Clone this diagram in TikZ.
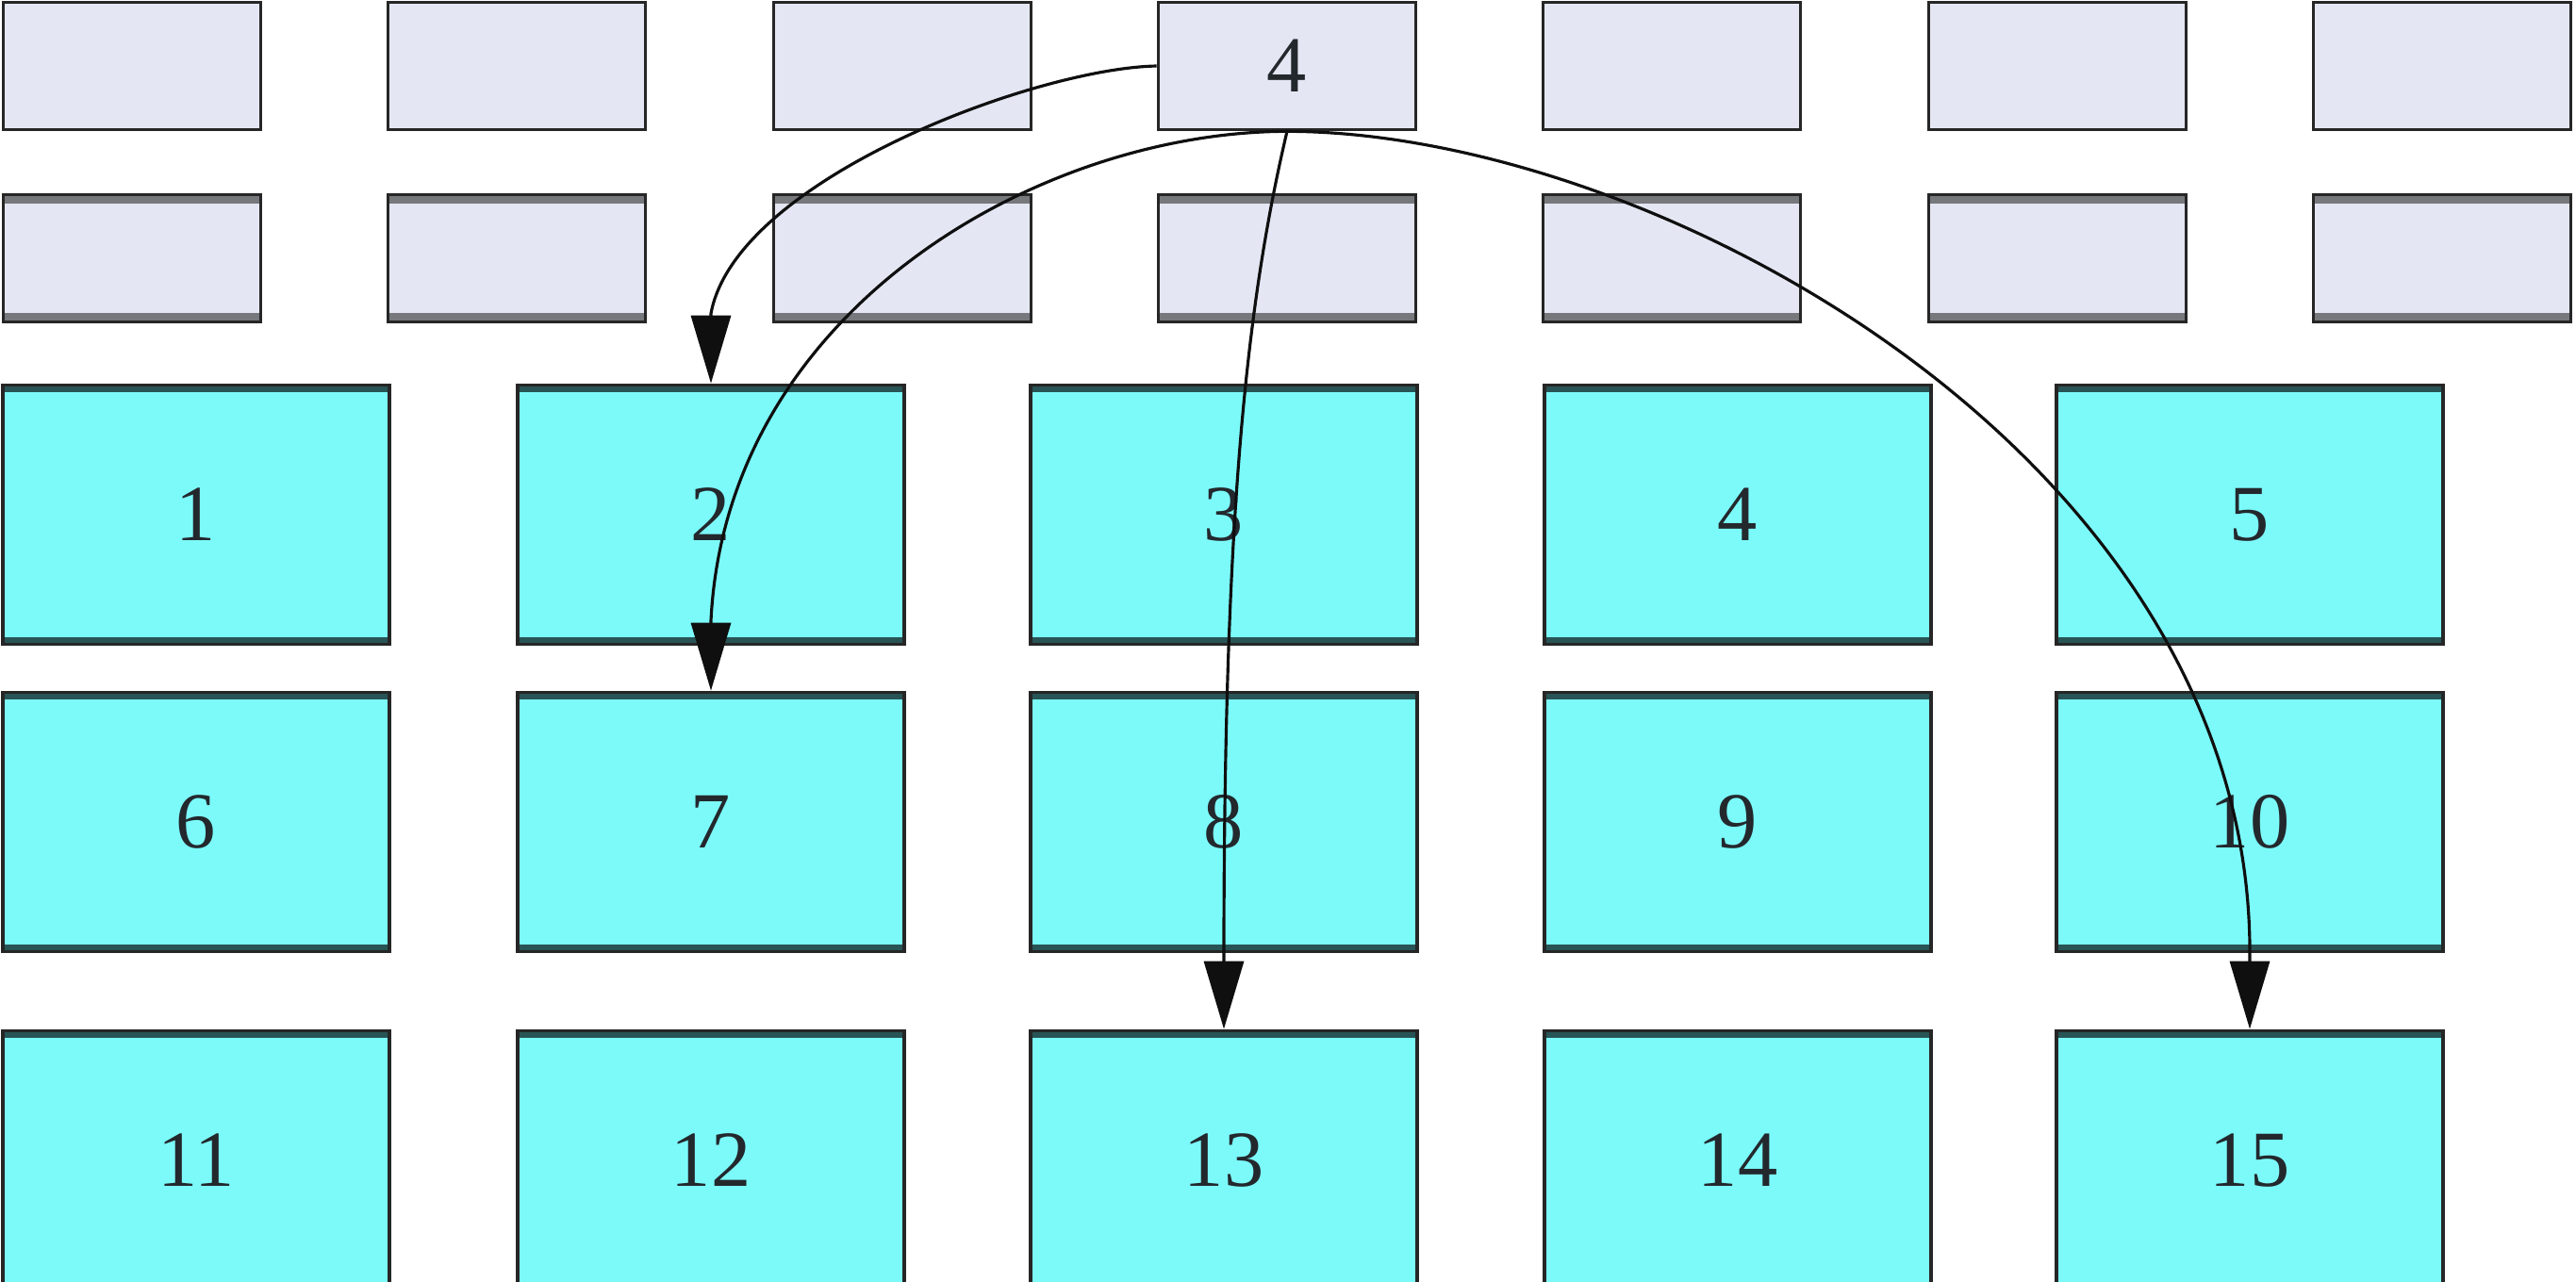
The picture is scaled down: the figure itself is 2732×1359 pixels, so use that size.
\documentclass[tikz,border=0pt]{standalone}
\usepackage{fontspec}
\setmainfont{Liberation Serif}
\usetikzlibrary{arrows.meta,calc}
\definecolor{lav}{RGB}{228,231,243}
\definecolor{cyanbox}{RGB}{124,250,250}
\definecolor{bandgray}{RGB}{118,120,124}
\definecolor{bandteal}{RGB}{40,84,86}
\definecolor{edgeblack}{RGB}{15,15,15}
\definecolor{labeltext}{RGB}{35,40,45}
\begin{document}
\begin{tikzpicture}[x=0.01cm,y=-0.01cm,
  topbox/.style={rectangle, inner sep=0pt, minimum width=2.73cm, minimum height=1.35cm,
    fill=lav, draw=black!85, line width=1pt, font=\fontsize{24}{28}\selectfont, text=labeltext},
  topboxb/.style={topbox, path picture={
    \draw[bandgray, line width=0.2cm]
      (path picture bounding box.north west) -- (path picture bounding box.north east)
      (path picture bounding box.south west) -- (path picture bounding box.south east);}},
  cellbox/.style={rectangle, inner sep=0pt, minimum width=4.10cm, minimum height=2.75cm,
    fill=cyanbox, draw=black!85, line width=1pt, font=\fontsize{24}{28}\selectfont, text=labeltext,
    path picture={
    \draw[bandteal, line width=0.16cm]
      (path picture bounding box.north west) -- (path picture bounding box.north east)
      (path picture bounding box.south west) -- (path picture bounding box.south east);}},
  link/.style={draw=edgeblack, line width=0.9pt, -{Triangle[length=0.72cm,width=0.42cm]}}
]
\fill[white] (0,0) rectangle (2732,1359);
\useasboundingbox (0,0) rectangle (2732,1359);

% top rows
\node[topbox] (ta1) at (140,70) {};
\node[topbox] (ta2) at (548,70) {};
\node[topbox] (ta3) at (957,70) {};
\node[topbox] (ta4) at (1365,70) {4};
\node[topbox] (ta5) at (1773,70) {};
\node[topbox] (ta6) at (2182,70) {};
\node[topbox] (ta7) at (2590,70) {};
\node[topboxb] (tb1) at (140,274) {};
\node[topboxb] (tb2) at (548,274) {};
\node[topboxb] (tb3) at (957,274) {};
\node[topboxb] (tb4) at (1365,274) {};
\node[topboxb] (tb5) at (1773,274) {};
\node[topboxb] (tb6) at (2182,274) {};
\node[topboxb] (tb7) at (2590,274) {};

% cyan grid
\foreach \c/\x in {1/208,2/754,3/1298,4/1843,5/2386}{
  \pgfmathtruncatemacro{\cb}{\c+5}
  \pgfmathtruncatemacro{\cc}{\c+10}
  \node[cellbox] (c\c) at (\x,546) {\c};
  \node[cellbox] (c\cb) at (\x,872) {\cb};
  \node[cellbox] (c\cc) at (\x,1231) {\cc};
}

% arrow bases just above the targets
\coordinate (b2) at ($(c2.north)+(0,-74)$);
\coordinate (b7) at ($(c7.north)+(0,-74)$);
\coordinate (b13) at ($(c13.north)+(0,-74)$);
\coordinate (b15) at ($(c15.north)+(0,-74)$);

% connectors
\draw[link] (ta4.west) .. controls (1100,72) and (780,190) .. (b2) -- (c2.north);
\draw[link] (ta4.south) .. controls (1100,140) and (770,330) .. (b7) -- (c7.north);
\draw[link] (ta4.south) .. controls (1320,330) and (1298,560) .. (b13) -- (c13.north);
\draw[link] (ta4.south) .. controls (1760,140) and (2392,490) .. (b15) -- (c15.north);
\end{tikzpicture}
\end{document}
